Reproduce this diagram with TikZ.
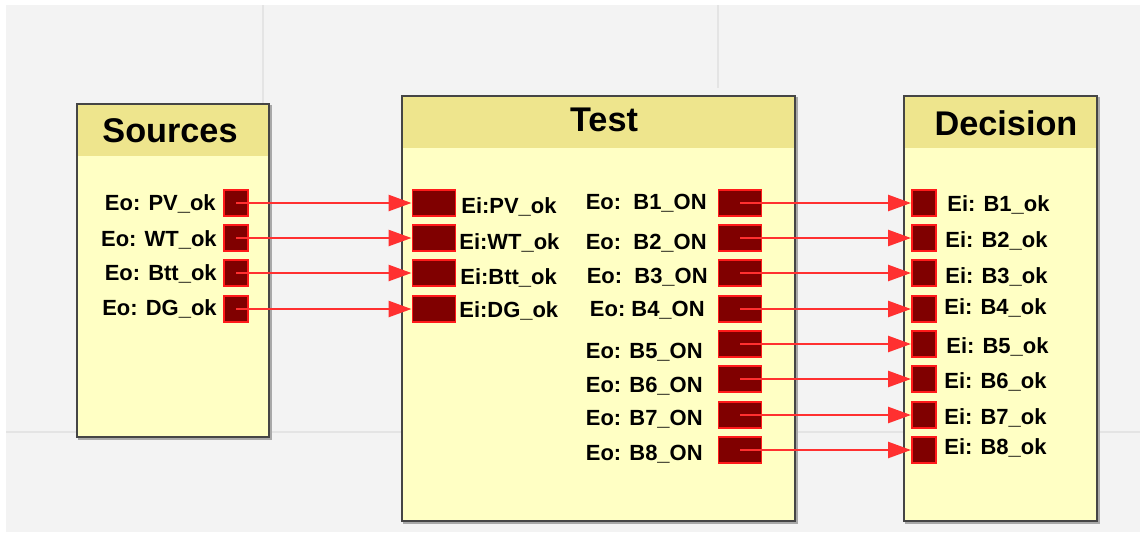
\documentclass[tikz,border=0pt]{standalone}
\usepackage{fontspec}
\setmainfont{Liberation Sans}
\usetikzlibrary{arrows.meta}
\definecolor{Canvas}{HTML}{F3F3F3}
\definecolor{Grid}{HTML}{E4E4E4}
\definecolor{Body}{HTML}{FFFFC4}
\definecolor{Head}{HTML}{EEE58D}
\definecolor{Frame}{HTML}{454545}
\definecolor{Shade}{HTML}{A8A8A8}
\definecolor{Pin}{HTML}{800000}
\definecolor{PinEdge}{HTML}{FF1A1A}
\definecolor{Wire}{HTML}{FF3030}

\begin{document}
\begin{tikzpicture}[
  x=0.02cm, y=-0.02cm,
  frame/.style={draw=Frame, line width=1.6pt},
  shade/.style={draw=Shade, line width=1.2pt},
  title/.style={font=\fontsize{19.5}{22}\selectfont\bfseries, inner sep=0},
  pin/.style={draw=PinEdge, fill=Pin, line width=1.1pt, minimum width=0.48cm, minimum height=0.52cm, inner sep=0},
  wpin/.style={pin, minimum width=0.86cm},
  tag/.style={font=\fontsize{12.5}{14}\selectfont\bfseries, inner sep=0, text height=9pt, text depth=0pt},
  arr/.style={-{Triangle[length=4.6mm,width=3.2mm]}, line width=1.4pt, draw=Wire},
]
% canvas and faint grid
\useasboundingbox (0,0) rectangle (1140,532);
\fill[white] (0,0) rectangle (1140,532);
\fill[Canvas] (6,5) rectangle (1140,532);
\draw[Grid, line width=0.8pt] (263,5) -- (263,104);
\draw[Grid, line width=0.8pt] (718,5) -- (718,88);
\draw[Grid, line width=0.8pt] (6,432) -- (1140,432);

% blocks
\draw[shade] (79,106) rectangle (271,439);
\fill[Body] (77,104) rectangle (269,437);
\fill[Head] (77,104) rectangle (269,156);
\draw[frame] (77,104) rectangle (269,437);
\node[title] (src) at (170,131) {Sources};

\draw[shade] (404,98) rectangle (797,523);
\fill[Body] (402,96) rectangle (795,521);
\fill[Head] (402,96) rectangle (795,148);
\draw[frame] (402,96) rectangle (795,521);
\node[title] (tst) at (604,120) {Test};

\draw[shade] (906,98) rectangle (1099,523);
\fill[Body] (904,96) rectangle (1097,521);
\fill[Head] (904,96) rectangle (1097,148);
\draw[frame] (904,96) rectangle (1097,521);
\node[title] (dec) at (1006,123) {Decision};

% Sources outputs
\node[pin] (pv) at (236,203) {};
\node[pin] (wt) at (236,238) {};
\node[pin] (btt) at (236,273) {};
\node[pin] (dg) at (236,309) {};
\node[tag, anchor=east] (lpv) at (216,203) {Eo: PV\_ok};
\node[tag, anchor=east] (lwt) at (217,239) {Eo: WT\_ok};
\node[tag, anchor=east] (lbtt) at (217,273) {Eo: Btt\_ok};
\node[tag, anchor=east] (ldg) at (217,308) {Eo: DG\_ok};

% Test inputs
\node[wpin] (ipv) at (434,203) {};
\node[wpin] (iwt) at (434,238) {};
\node[wpin] (ibtt) at (434,273) {};
\node[wpin] (idg) at (434,309) {};
\node[tag, anchor=west] (lipv) at (461,206) {Ei:PV\_ok};
\node[tag, anchor=west] (liwt) at (459,242) {Ei:WT\_ok};
\node[tag, anchor=west] (libtt) at (460,277) {Ei:Btt\_ok};
\node[tag, anchor=west] (lidg) at (459,310) {Ei:DG\_ok};

% Test outputs
\node[wpin] (o1) at (740,203) {};
\node[wpin] (o2) at (740,238) {};
\node[wpin] (o3) at (740,273) {};
\node[wpin] (o4) at (740,309) {};
\node[wpin] (o5) at (740,344) {};
\node[wpin] (o6) at (740,379) {};
\node[wpin] (o7) at (740,415) {};
\node[wpin] (o8) at (740,450) {};
\node[tag, anchor=east] (lo1) at (707,202) {Eo:\ \ B1\_ON};
\node[tag, anchor=east] (lo2) at (707,242) {Eo:\ \ B2\_ON};
\node[tag, anchor=east] (lo3) at (708,276) {Eo:\ \ B3\_ON};
\node[tag, anchor=east] (lo4) at (705,309) {Eo:\ B4\_ON};
\node[tag, anchor=east] (lo5) at (703,351) {Eo: B5\_ON};
\node[tag, anchor=east] (lo6) at (703,385) {Eo: B6\_ON};
\node[tag, anchor=east] (lo7) at (703,418) {Eo: B7\_ON};
\node[tag, anchor=east] (lo8) at (703,453) {Eo: B8\_ON};

% Decision inputs
\node[pin] (d1) at (924,203) {};
\node[pin] (d2) at (924,238) {};
\node[pin] (d3) at (924,273) {};
\node[pin] (d4) at (924,309) {};
\node[pin] (d5) at (924,344) {};
\node[pin] (d6) at (924,379) {};
\node[pin] (d7) at (924,415) {};
\node[pin] (d8) at (924,450) {};
\node[tag, anchor=west] (ld1) at (947,204) {Ei: B1\_ok};
\node[tag, anchor=west] (ld2) at (945,240) {Ei: B2\_ok};
\node[tag, anchor=west] (ld3) at (945,276) {Ei: B3\_ok};
\node[tag, anchor=west] (ld4) at (944,307) {Ei: B4\_ok};
\node[tag, anchor=west] (ld5) at (946,346) {Ei: B5\_ok};
\node[tag, anchor=west] (ld6) at (944,381) {Ei: B6\_ok};
\node[tag, anchor=west] (ld7) at (944,417) {Ei: B7\_ok};
\node[tag, anchor=west] (ld8) at (944,447) {Ei: B8\_ok};

% wires
\draw[arr] (pv.center) -- (ipv.west);
\draw[arr] (wt.center) -- (iwt.west);
\draw[arr] (btt.center) -- (ibtt.west);
\draw[arr] (dg.center) -- (idg.west);
\draw[arr] (o1.center) -- (d1.west);
\draw[arr] (o2.center) -- (d2.west);
\draw[arr] (o3.center) -- (d3.west);
\draw[arr] (o4.center) -- (d4.west);
\draw[arr] (o5.center) -- (d5.west);
\draw[arr] (o6.center) -- (d6.west);
\draw[arr] (o7.center) -- (d7.west);
\draw[arr] (o8.center) -- (d8.west);
\end{tikzpicture}
\end{document}
